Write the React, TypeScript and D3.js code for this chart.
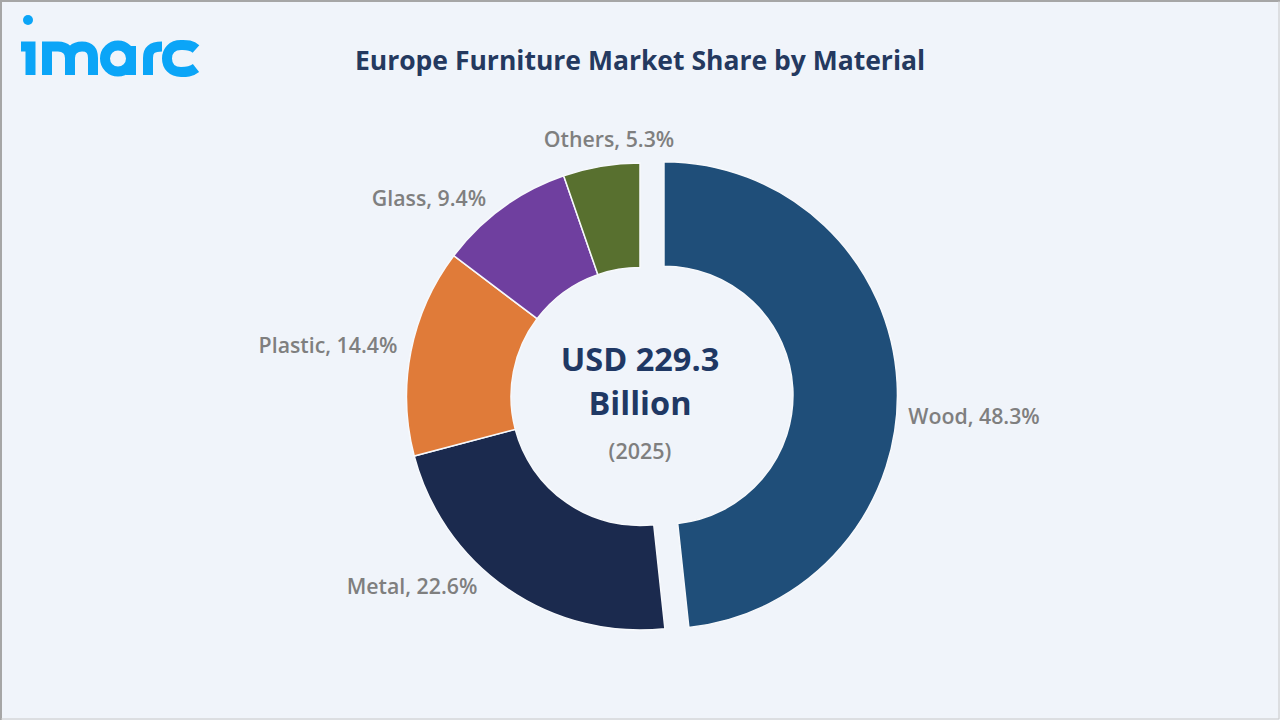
import React from "react";
import * as d3 from "d3";

const categories = ["Wood", "Metal", "Plastic", "Glass", "Others"];
const shares = [48.3, 22.6, 14.4, 9.4, 5.3];
const colors = ["#1f4e79", "#1b2a4e", "#e07b39", "#6f3f9f", "#58702f"];
const explode = [24, 0, 0, 0, 0];
const labelPos: [number, number][] = [
  [974, 418],
  [412, 588],
  [328, 347],
  [429, 200],
  [609, 141],
];

const BG = "#f0f4fa";
const FONT = "'Open Sans', 'Noto Sans', sans-serif";

const width = 1280;
const height = 720;
const cx = 640;
const cy = 396.5;
const outerR = 233.5;
const innerR = 129;

const pie = d3
  .pie<number>()
  .sort(null)
  .value((d) => d);
const arc = d3
  .arc<d3.PieArcDatum<number>>()
  .innerRadius(innerR)
  .outerRadius(outerR);

const Logo = () => (
  <g fill="none" stroke="#0ba5f7" strokeWidth={10}>
    <circle cx={28} cy={20} r={5} fill="#0ba5f7" stroke="none" />
    <path d="M21 46.5H30.5V75" />
    <path d="M47 75V46.5H58C66 46.5 70 51 70 58V75M70 58C70 51 74 46.5 82 46.5C90 46.5 93 51 93 58V75" />
    <circle cx={118} cy={58.5} r={13} />
    <path d="M131 46V75" />
    <path d="M148 75V58C148 50 152 46.5 162 46.5" />
    <path d="M196 49C191 44.5 186 45 181 45C172 45 167 51 167 58.5C167 66 172 72 181 72C186 72 191 72 196 68" />
  </g>
);

export default function App() {
  const slices = pie(shares);
  return (
    <svg
      width={width}
      height={height}
      viewBox={`0 0 ${width} ${height}`}
      style={{ position: "absolute", left: 0, top: 0 }}
    >
      <rect width={width} height={height} fill={BG} />
      <path d="M1 720V1H1280" fill="none" stroke="#a6a6a6" strokeWidth={2} />
      <path d="M1279 1V719H1" fill="none" stroke="#c8c8c8" strokeWidth={1} />
      <Logo />
      <text
        x={640}
        y={70}
        textAnchor="middle"
        fontFamily={FONT}
        fontWeight={700}
        fontSize={26.5}
        fill="#24395f"
      >
        Europe Furniture Market Share by Material
      </text>
      {slices.map((s, i) => {
        const mid = (s.startAngle + s.endAngle) / 2;
        const dx = Math.sin(mid) * explode[i];
        const dy = -Math.cos(mid) * explode[i];
        return (
          <path
            key={categories[i]}
            d={arc(s) ?? ""}
            transform={`translate(${cx + dx},${cy + dy})`}
            fill={colors[i]}
            stroke="#f7f9fc"
            strokeWidth={1.5}
          />
        );
      })}
      {categories.map((c, i) => (
        <text
          key={c}
          x={labelPos[i][0]}
          y={labelPos[i][1]}
          textAnchor="middle"
          dominantBaseline="middle"
          fontFamily={FONT}
          fontWeight={600}
          fontSize={21.3}
          fill="#7f7f7f"
        >
          {`${c}, ${shares[i]}%`}
        </text>
      ))}
      <g textAnchor="middle" fontFamily={FONT}>
        <text x={640} y={371} fontWeight={700} fontSize={32.5} fill="#1f3864">
          USD 229.3
        </text>
        <text x={640} y={415} fontWeight={700} fontSize={32.5} fill="#1f3864">
          Billion
        </text>
        <text x={640} y={459} fontWeight={600} fontSize={21.5} fill="#7f7f7f">
          (2025)
        </text>
      </g>
    </svg>
  );
}
